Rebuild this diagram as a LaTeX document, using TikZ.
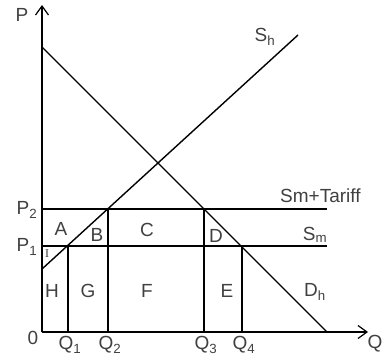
\documentclass[tikz,border=0pt]{standalone}
\usepackage{fontspec}
\setmainfont{Liberation Sans}
\newfontfamily\seriffont{Liberation Serif}
\usetikzlibrary{arrows.meta}
\definecolor{labelgray}{HTML}{404040}

\begin{document}
\begin{tikzpicture}[
  x=1pt, y=-1pt,
  curve/.style={line width=1.4pt, black},
  axis/.style={line width=1.4pt, black, -{Straight Barb[length=9pt, width=13pt, line width=1.2pt]}},
  lbl/.style={font=\fontsize{19}{19}\selectfont, text=labelgray, inner sep=0pt},
  area/.style={font=\fontsize{19}{19}\selectfont, text=labelgray, inner sep=0pt}
]
\useasboundingbox (0,0) rectangle (390,356);
% axes
\coordinate (O)    at (42,332);
\coordinate (ytop) at (42,5);
\coordinate (xend) at (368,332);
\draw[axis] (O) -- (ytop);
\draw[axis] (O) -- (xend);
% demand and supply
\coordinate (dtop) at (42,47);
\coordinate (dbot) at (327,332);
\coordinate (sbot) at (42,269);
\coordinate (stop) at (298,35);
\draw[curve] (dtop) -- (dbot);
\draw[curve] (sbot) -- (stop);
% price lines
\coordinate (p2l) at (42,209);
\coordinate (p2r) at (327,209);
\coordinate (p1l) at (42,246);
\coordinate (p1r) at (327,246);
\draw[curve] (p2l) -- (p2r);
\draw[curve] (p1l) -- (p1r);
% quantity lines
\coordinate (q1t) at (68,246);
\coordinate (q1b) at (68,332);
\coordinate (q2t) at (108,209);
\coordinate (q2b) at (108,332);
\coordinate (q3t) at (204,209);
\coordinate (q3b) at (204,332);
\coordinate (q4t) at (242,246);
\coordinate (q4b) at (242,332);
\draw[curve] (q1t) -- (q1b);
\draw[curve] (q2t) -- (q2b);
\draw[curve] (q3t) -- (q3b);
\draw[curve] (q4t) -- (q4b);
% axis labels
\node[lbl] (pl)   at (22,15)  {P};
\node[lbl] (ql)   at (375,344) {Q};
\node[lbl] (zero) at (33,338) {0};
\node[lbl] (p2)   at (27,210) {P\textsubscript{2}};
\node[lbl] (p1)   at (27,247) {P\textsubscript{1}};
\node[lbl] (q1)   at (70,345) {Q\textsubscript{1}};
\node[lbl] (q2)   at (110,345) {Q\textsubscript{2}};
\node[lbl] (q3)   at (206,345) {Q\textsubscript{3}};
\node[lbl] (q4)   at (244,345) {Q\textsubscript{4}};
% curve labels
\node[lbl] (sh)  at (265,37)  {S\textsubscript{h}};
\node[lbl, anchor=west] (tar) at (280,196) {Sm+Tariff};
\node[lbl] (sm)  at (315,235) {S\textsubscript{m}};
\node[lbl] (dh)  at (315,292) {D\textsubscript{h}};
% areas
\node[area] (A) at (61,229) {A};
\node[area] (B) at (97,235) {B};
\node[area] (C) at (147,230) {C};
\node[area] (D) at (216,236) {D};
\node[area] (E) at (227,291) {E};
\node[area] (F) at (147,291) {F};
\node[area] (G) at (88,291)  {G};
\node[area] (H) at (52,291)  {H};
\node[area, font=\seriffont\fontsize{12}{12}\selectfont] (I) at (47,254) {I};
\end{tikzpicture}
\end{document}
